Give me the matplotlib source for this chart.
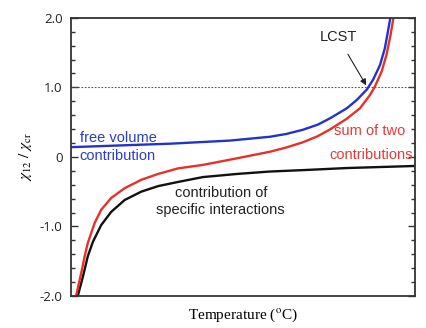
import matplotlib
matplotlib.use("Agg")
import matplotlib.pyplot as plt
from matplotlib.ticker import MultipleLocator, NullLocator

plt.rcParams['mathtext.fontset'] = 'stix'

# Data (temperature in arbitrary units 0..100)
blue_T = [0, 14.2, 28.7, 46.2, 57.8, 62.5, 67.3, 71.7, 75.2, 80.1, 83.0, 85.9, 87.7, 89.7, 91.1, 92.0, 92.7, 93.5]
blue_v = [0.14, 0.165, 0.19, 0.235, 0.29, 0.33, 0.39, 0.465, 0.555, 0.70, 0.82, 0.97, 1.11, 1.32, 1.56, 1.80, 2.0, 2.4]

red_T = [1.0, 1.5, 3.0, 4.0, 4.9, 6.9, 8.8, 11.7, 15.6, 20.4, 25.3, 31.1, 38.3, 48.2, 57.8, 62.5, 67.3, 71.5, 75.2, 80.1, 83.9, 86.8, 88.2, 90.2, 91.6, 92.8, 93.6, 94.0]
red_v = [-2.4, -2.0, -1.67, -1.43, -1.24, -0.95, -0.76, -0.59, -0.45, -0.33, -0.245, -0.165, -0.115, -0.02, 0.075, 0.135, 0.21, 0.295, 0.395, 0.55, 0.70, 0.89, 1.01, 1.23, 1.47, 1.76, 2.0, 2.4]

black_T = [1.45, 2.0, 3.5, 4.9, 6.4, 8.8, 11.7, 15.6, 20.4, 25.3, 31.1, 38.3, 48.2, 57.8, 67.3, 80.1, 100]
black_v = [-2.3, -2.0, -1.72, -1.43, -1.22, -0.98, -0.79, -0.62, -0.50, -0.42, -0.36, -0.29, -0.245, -0.21, -0.19, -0.16, -0.13]

yticks = [-2.0, -1.0, 0.0, 1.0, 2.0]
ytick_labels = ["-2.0", "-1.0", "0", "1.0", "2.0"]

fig = plt.figure(figsize=(4.27, 3.28), dpi=100)
ax = fig.add_axes([0.166, 0.0976, 0.807, 0.848])

ax.axhline(1.0, color='#555555', lw=0.8, ls=(0, (1.5, 1.5)))
kw = dict(lw=1.7, solid_joinstyle='round', solid_capstyle='round')
ax.plot(black_T, black_v, color='#111111', **kw)
ax.plot(red_T, red_v, color='#e8302a', **kw)
ax.plot(blue_T, blue_v, color='#2233cc', **kw)

ax.set_xlim(0, 100)
ax.set_ylim(-2.0, 2.0)
ax.xaxis.set_major_locator(NullLocator())
ax.set_yticks(yticks)
ax.set_yticklabels(ytick_labels, fontsize=9.5, family='Open Sans')
ax.yaxis.set_minor_locator(MultipleLocator(0.2))
ax.tick_params(axis='y', which='major', direction='in', length=5, width=1, right=True, colors='#333333', labelcolor='#222222', pad=6)
ax.tick_params(axis='y', which='minor', direction='in', length=3, width=1, right=True, colors='#333333')
for s in ax.spines.values():
    s.set_color('#333333')
    s.set_linewidth(1.3)

ax.set_ylabel(r'$\chi_{12}\ /\ \chi_{\mathrm{cr}}$', fontsize=11, labelpad=4)
ax.set_xlabel(r'Temperature ($^{\mathrm{o}}$C)', fontsize=11, family='Liberation Serif', labelpad=8)

tf = dict(fontsize=10.5, family='Liberation Sans')
ax.text(2.6, 0.27, 'free volume', color='#2a3ccc', ha='left', va='center', **tf)
ax.text(2.6, 0.02, 'contribution', color='#2a3ccc', ha='left', va='center', **tf)

ax.text(86.8, 0.37, 'sum of two', color='#e53a35', ha='center', va='center', **tf)
ax.text(87.0, 0.03, 'contributions', color='#e53a35', ha='center', va='center', **tf)

ax.text(43.5, -0.52, 'contribution of', color='#222222', ha='center', va='center', **tf)
ax.text(43.5, -0.76, 'specific interactions', color='#222222', ha='center', va='center', **tf)

ax.annotate('LCST', xy=(85.7, 1.03), xytext=(77.5, 1.72), ha='center', va='center', color='#222222',
            arrowprops=dict(arrowstyle='-|>', color='#222222', lw=0.8, shrinkA=6, shrinkB=0, mutation_scale=9), **tf)

fig.savefig('out.png', dpi=100)
